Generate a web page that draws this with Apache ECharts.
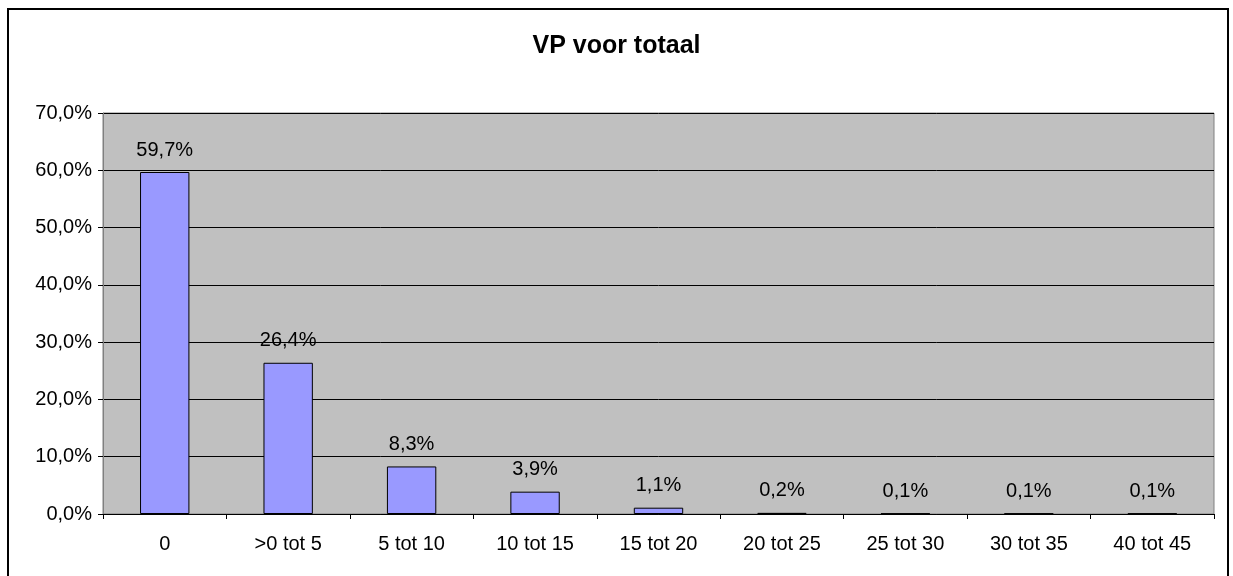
<!DOCTYPE html>
<html>
<head>
<meta charset="utf-8">
<script src="https://cdn.jsdelivr.net/npm/echarts@6/dist/echarts.min.js"></script>
<style>
  html, body { margin: 0; padding: 0; background: #fff; }
  #vpChart { width: 1233px; height: 576px; }
</style>
</head>
<body>
<div id="vpChart"></div>
<script>
const categories = ['0', '>0 tot 5', '5 tot 10', '10 tot 15', '15 tot 20', '20 tot 25', '25 tot 30', '30 tot 35', '40 tot 45']
const percentages = [59.7, 26.4, 8.3, 3.9, 1.1, 0.2, 0.1, 0.1, 0.1]

const fontName = '"Liberation Sans", Arial, sans-serif'
const pct = v => v.toFixed(1).replace('.', ',') + '%'

let myChart = echarts.init(document.getElementById('vpChart'))
myChart.setOption({
  backgroundColor: '#fff',
  animation: false,
  title: {
    text: 'VP voor totaal',
    left: 'center',
    top: 29,
    textStyle: { fontFamily: fontName, fontSize: 25, fontWeight: 'bold', color: '#000' }
  },
  graphic: [{
    type: 'rect',
    shape: { x: 8, y: 9, width: 1220, height: 600 },
    style: { fill: 'none', stroke: '#000', lineWidth: 2 },
    silent: true
  }],
  grid: {
    left: 103, top: 113, right: 19, bottom: 62,
    show: true,
    backgroundColor: '#C0C0C0',
    borderColor: '#808080',
    borderWidth: 1
  },
  xAxis: {
    type: 'category',
    data: categories,
    axisLine: { lineStyle: { color: '#000', width: 1 } },
    axisTick: { show: true, length: 5, lineStyle: { color: '#000' } },
    axisLabel: { color: '#000', fontFamily: fontName, fontSize: 20, margin: 20, interval: 0 }
  },
  yAxis: {
    type: 'value',
    min: 0,
    max: 70,
    interval: 10,
    axisLine: { show: true, lineStyle: { color: '#808080' } },
    axisTick: { show: true, length: 5, lineStyle: { color: '#000' } },
    axisLabel: { color: '#000', fontFamily: fontName, fontSize: 20, margin: 11, formatter: pct },
    splitLine: { lineStyle: { color: '#000', width: 1 } }
  },
  series: [{
    type: 'bar',
    data: percentages,
    barCategoryGap: '60%',
    itemStyle: { color: '#9999FF', borderColor: '#000', borderWidth: 1 },
    label: {
      show: true,
      position: 'top',
      distance: 12,
      color: '#000',
      fontFamily: fontName,
      fontSize: 20,
      formatter: p => pct(p.value)
    }
  }]
})
</script>
</body>
</html>
